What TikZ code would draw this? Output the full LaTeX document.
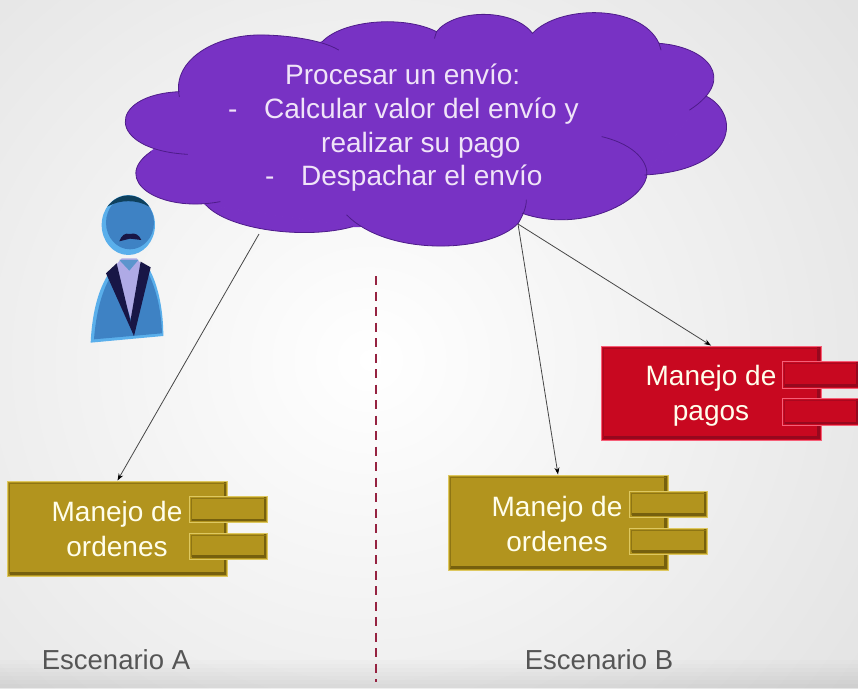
\documentclass[tikz,border=0pt]{standalone}
\usepackage{fontspec}
\setmainfont{Liberation Sans}
\usetikzlibrary{arrows.meta,shadings}
\definecolor{goldF}{RGB}{178,148,30}
\definecolor{goldD}{RGB}{118,96,14}
\definecolor{goldL}{RGB}{222,200,96}
\definecolor{redF}{RGB}{200,8,32}
\definecolor{redD}{RGB}{150,8,30}
\definecolor{redL}{RGB}{245,95,120}
\definecolor{cloudF}{RGB}{120,50,196}
\definecolor{cloudD}{RGB}{78,28,138}
\definecolor{cloudT}{RGB}{240,228,248}
\definecolor{bgEdge}{RGB}{226,226,226}
\definecolor{labelC}{RGB}{85,85,85}
\definecolor{bodyB}{RGB}{62,130,196}
\definecolor{bodyL}{RGB}{90,175,235}
\definecolor{navy}{RGB}{24,22,70}
\definecolor{shirt}{RGB}{175,170,230}
\definecolor{wireC}{RGB}{70,70,70}
\definecolor{divC}{RGB}{150,35,65}
\tikzset{
  x=1pt,y=-1pt,
  bevel/.style n args={3}{fill=#1,draw=#3,line width=1pt,inner sep=0pt,
    path picture={
      \draw[#2,line width=2.6pt]
        ([xshift=-2.4pt,yshift=2pt]path picture bounding box.north east)
        -- ([xshift=-2.4pt,yshift=2.4pt]path picture bounding box.south east)
        -- ([xshift=2pt,yshift=2.4pt]path picture bounding box.south west);
      \draw[#2!60!#1,line width=1pt]
        ([xshift=2pt,yshift=2pt]path picture bounding box.south west)
        -- ([xshift=2pt,yshift=-2pt]path picture bounding box.north west)
        -- ([xshift=-2pt,yshift=-2pt]path picture bounding box.north east);
    }},
  compgold/.style={bevel={goldF}{goldD}{goldL},minimum width=220pt,minimum height=95pt},
  portgold/.style={bevel={goldF}{goldD}{goldL},minimum width=78pt,minimum height=26pt},
  compred/.style={bevel={redF}{redD}{redL},minimum width=220pt,minimum height=94pt},
  portred/.style={bevel={redF}{redD}{redL},minimum width=78pt,minimum height=27pt},
  boxtext/.style={text=white!92!yellow,font=\fontsize{28}{35}\selectfont,align=center,inner sep=0pt},
  cloudtext/.style={text=cloudT,font=\fontsize{28}{33.6}\selectfont,align=left,inner sep=0pt},
  caption/.style={text=labelC,font=\fontsize{27.5}{30}\selectfont,inner sep=0pt},
  wire/.style={draw=wireC,line width=0.8pt,-{Stealth[length=7pt,width=5pt,color=black]}},
}
\newcommand\lobe[1]{}
\newcommand\cloudshape{%
 \lobe{(170,290) .. controls (150,180) and (260,100) .. (380,105) .. controls (440,107) and (520,120) .. (560,150)}%
 \lobe{(520,125) .. controls (570,60) and (720,45) .. (800,95) -- (795,115)}%
 \lobe{(800,95) .. controls (845,25) and (990,25) .. (1035,100)}%
 \lobe{(1035,100) .. controls (1100,15) and (1300,10) .. (1345,130) -- (1350,150)}%
 \lobe{(1345,130) .. controls (1460,140) and (1540,235) .. (1420,330)}%
 \lobe{(1460,288) .. controls (1545,340) and (1540,510) .. (1310,525)}%
 \lobe{(1205,410) .. controls (1290,435) and (1320,490) .. (1315,530) .. controls (1300,610) and (1150,700) .. (1010,640)}%
 \lobe{(1020,600) .. controls (1020,625) and (1010,650) .. (1000,670) .. controls (930,760) and (680,770) .. (580,645)}%
 \lobe{(595,680) .. controls (480,720) and (290,690) .. (235,615)}%
 \lobe{(270,605) .. controls (120,640) and (0,540) .. (100,455)}%
 \lobe{(190,463) .. controls (-10,450) and (-10,285) .. (170,275)}%
}
\begin{document}
\begin{tikzpicture}
\useasboundingbox (0,0) rectangle (858,688);
% background
\shade[inner color=white,outer color=bgEdge,shading=radial] (-260,-240) rectangle (1000,960);
\foreach \yy in {660,664,...,684} \fill[black,opacity=.012] (0,\yy) rectangle (858,688);
\clip (0,0) rectangle (858,688);
% divider
\coordinate (divA) at (376,276);
\coordinate (divB) at (376,682);
\draw[draw=divC,line width=1.8pt,dash pattern=on 9pt off 6.5pt] (divA) -- (divB);
% cloud
\begin{scope}[shift={(110,0)},x=0.40816pt,y=-0.3333pt]
\renewcommand\lobe[1]{\fill[cloudF] #1;}
\cloudshape
\filldraw[fill=cloudF,draw=cloudF,line width=1pt,line join=round] (170,290) -- (520,125) -- (800,95) -- (1035,100) -- (1345,130) -- (1460,288) -- (1310,525) -- (1010,640) -- (1000,670) -- (595,680) -- (235,615) -- (100,455) -- (112,445) -- (170,275) -- cycle;
\renewcommand\lobe[1]{\draw[cloudD,line width=0.8pt,line cap=round] #1;}
\cloudshape
\end{scope}
\node[cloudtext,anchor=north west] (cloudlabel) at (228,64) {%
  \hspace*{57pt}Procesar un envío:\\
  \makebox[36pt][l]{-}Calcular valor del envío y\\
  \hspace*{93pt}realizar su pago\\
  \hspace*{37pt}\makebox[36pt][l]{-}Despachar el envío};
% person
\begin{scope}[shift={(70,180)},x=0.3333pt,y=-0.3333pt]
\fill[bodyL] (62,488) .. controls (66,400) and (85,320) .. (125,268) -- (235,262)
  .. controls (268,320) and (280,400) .. (280,468) -- cycle;
\fill[bodyB] (72,478) .. controls (78,400) and (95,330) .. (130,275) -- (230,270)
  .. controls (262,330) and (274,400) .. (276,460) -- cycle;
\fill[shirt] (132,262) -- (155,235) -- (200,235) -- (222,262) -- (190,440) -- cycle;
\fill[bodyB!85!white] (148,240) -- (205,240) -- (178,272) -- cycle;
\fill[navy] (108,280) -- (140,250) -- (192,468) -- cycle;
\fill[navy] (242,262) -- (212,245) -- (180,430) -- (192,468) -- cycle;
\fill[bodyL] (175,135) ellipse [x radius=80,y radius=90];
\fill[bodyB] (180,128) ellipse [x radius=72,y radius=80];
\fill[navy!60!teal] (112,80) .. controls (145,35) and (205,35) .. (238,80) .. controls (200,58) and (150,58) .. (112,80) -- cycle;
\fill[navy] (148,184) .. controls (155,165) and (165,158) .. (180,162) .. controls (195,157) and (208,165) .. (214,180)
  -- (180,176) -- cycle;
\end{scope}
% components
\node[compgold] (compA) at (117.5,528.5) {};
\node[portgold] (portA1) at (228.5,509.5) {};
\node[portgold] (portA2) at (228.5,546) {};
\node[boxtext] (textA) at (117,529) {Manejo de\\ordenes};
\node[compgold] (compB) at (558,522.5) {};
\node[portgold] (portB1) at (668.5,504) {};
\node[portgold] (portB2) at (668.5,541) {};
\node[boxtext] (textB) at (557,524) {Manejo de\\ordenes};
\node[compred] (compC) at (711,393) {};
\node[portred] (portC1) at (821,374.5) {};
\node[portred] (portC2) at (821,412) {};
\node[boxtext] (textC) at (711,396) {Manejo de\\pagos};
% connectors
\coordinate (cloudL) at (259,234);
\coordinate (cloudR) at (518,224);
\draw[wire] (cloudL) -- (compA.north);
\draw[wire] (cloudR) -- (compB.north);
\draw[wire] (cloudR) -- (compC.north);
% captions
\node[caption] (capA) at (116,660) {Escenario A};
\node[caption] (capB) at (599,660) {Escenario B};
\end{tikzpicture}
\end{document}
